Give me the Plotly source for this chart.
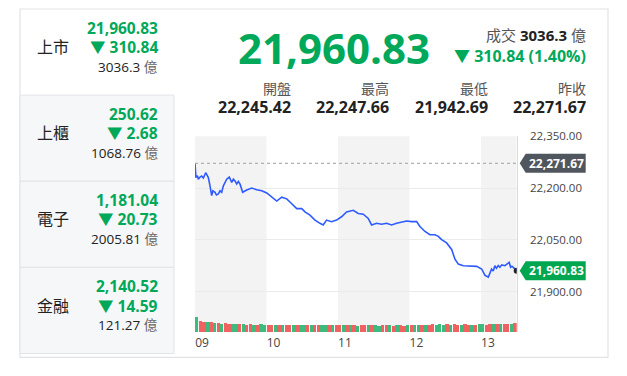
import plotly.graph_objects as go

W, H = 627, 376

# ---------------- data ----------------
minutes = [0, 0.8, 2.0, 2.8, 4.2, 5.6, 7.0, 9.0, 10.0, 11.2, 12.4, 14.0, 15.0, 16.8, 18.0, 19.6,
           21.0, 22.4, 23.8, 25.0, 26.6, 28.8, 29.8, 30.8, 32.2, 33.6, 35.0, 36.4, 37.8, 39.0,
           40.0, 43.4, 47.6, 51.8, 56.0, 60.2, 64.4, 68.6, 72.8, 77.0, 81.2, 85.4,
           89.6, 92.3, 96.5, 100.7, 104.9, 107.6, 110.4, 114.6, 118.8, 123.0, 127.2, 132.8,
           137.0, 141.2, 145.4, 148.2, 152.4, 156.6, 160.8, 165.0, 169.2, 173.4, 177.6, 181.8,
           186.0, 188.8, 193.0, 197.2, 201.4, 204.2, 207.0, 211.2, 215.4, 218.2, 221.0, 225.2,
           230.8, 236.4, 240.6, 243.4, 246.2, 247.5, 248.9, 250.3, 251.7, 253.0, 254.5, 255.9,
           257.5, 260.1, 262.0, 263.7, 264.9, 266.0, 267.1, 270]
prices = [22270.8, 22230.3, 22236.0, 22225.5, 22232.0, 22234.8, 22229.0, 22244.4, 22238.0,
          22230.3, 22210.0, 22178.2, 22192.0, 22187.8, 22180.0, 22183.0, 22192.0, 22187.8,
          22206.5, 22214.0, 22225.5, 22232.0, 22222.0, 22216.1, 22226.0, 22220.7, 22212.0,
          22219.0, 22211.3, 22196.0, 22187.8,
          22194.3, 22200.0, 22195.2, 22192.4, 22185.9, 22173.7, 22162.4, 22173.7, 22168.9,
          22154.7, 22140.6, 22140.6, 22131.2, 22121.6, 22107.5, 22098.1, 22093.3, 22107.5,
          22102.9, 22107.5, 22117.1, 22131.2, 22135.8, 22126.4, 22124.4, 22112.3, 22093.3,
          22098.1, 22095.3, 22098.1, 22093.3, 22098.1, 22101.8, 22104.6, 22102.9, 22102.9,
          22088.8, 22074.6, 22065.0, 22065.0, 22060.5, 22050.9, 22041.5, 22022.6, 21994.3,
          21980.1, 21975.6, 21975.6, 21973.6, 21966.0, 21947.3, 21942.7, 21955.0, 21966.0,
          21960.0, 21975.6, 21968.0, 21976.0, 21970.8, 21978.0, 21975.6, 21980.0, 21985.0,
          21970.8, 21974.0, 21970.8, 21960.83]

prev_close = 22271.67
last_price = 21960.83

# volume per 3-minute slot (億) and up/down colour flag
volumes = [72, 52, 48, 45, 44, 40, 42, 38, 40, 37,
           36, 38, 35, 36, 34, 35, 33, 34, 36, 33,
           32, 34, 33, 31, 33, 32, 34, 31, 30, 32,
           33, 31, 30, 32, 31, 30, 33, 31, 30, 32,
           31, 30, 31, 32, 30, 29, 31, 30, 32, 31,
           30, 29, 31, 30, 30, 29, 31, 30, 29, 31,
           30, 32, 31, 33, 34, 32, 36, 33, 35, 34,
           36, 33, 35, 34, 33, 35, 32, 34, 33, 35,
           36, 34, 37, 35, 36, 38, 35, 37, 36, 40]
vol_dir = ["grrgrgrgrr", "ggrgrrgrgg", "rrgrgrrgrg", "grgrrggrgr", "rgrgrgrrgr",
           "ggrrgrgrrg", "rggrgrrggg", "rgrrgrrgrg", "grrgrgrrgr", "rrgrrgrgrr"]

hour_ticks = [0, 60, 120, 180, 240]
hour_labels = ["09", "10", "11", "12", "13"]
price_ticks = [21900, 22050, 22200, 22350]
price_labels = ["21,900.00", "22,050.00", "22,200.00", "22,350.00"]

headline = "21,960.83"
change_text = "▼ 310.84 (1.40%)"
turnover = "3036.3"
stat_names = ["開盤", "最高", "最低", "昨收"]
stat_values = ["22,245.42", "22,247.66", "21,942.69", "22,271.67"]

markets = ["上市", "上櫃", "電子", "金融"]
market_index = ["21,960.83", "250.62", "1,181.04", "2,140.52"]
market_change = ["310.84", "2.68", "20.73", "14.59"]
market_volume = ["3036.3", "1068.76", "2005.81", "121.27"]

# ---------------- styles ----------------
GREEN = "#00a85a"
RED_BAR = "#f06262"
GREEN_BAR = "#3dba7c"
DARK = "#222222"
GRAY = "#555555"
FONT = "Open Sans, Noto Sans CJK TC, sans-serif"
TEXT_DY = -6  # visual correction for annotation vertical centring

def px(x):
    return x / W

def py(y):
    return 1 - y / H

X0, X1 = 195, 516.7
Y0, Y1 = 131, 331

fig = go.Figure()

flags = "".join(vol_dir)
slot = 3
vol_t = [slot * i + slot / 2 for i in range(len(volumes))]
fig.add_trace(go.Bar(
    x=vol_t, y=volumes, yaxis="y2", width=slot * 0.92,
    marker=dict(color=[GREEN_BAR if c == "g" else RED_BAR for c in flags],
                line=dict(width=0)),
    hoverinfo="skip", showlegend=False))

fig.add_trace(go.Scatter(
    x=minutes, y=prices, mode="lines",
    line=dict(color="#2e5bff", width=1.6), showlegend=False, hoverinfo="skip"))

fig.add_trace(go.Scatter(
    x=[minutes[-1]], y=[last_price], mode="markers",
    marker=dict(color="#222222", size=6), showlegend=False, hoverinfo="skip"))

shapes = []
# outer frame
shapes.append(dict(type="rect", xref="paper", yref="paper", x0=px(20), x1=px(608), y0=py(357), y1=py(1),
                   line=dict(color="#e2e3e6", width=1.2), fillcolor="rgba(0,0,0,0)", layer="below"))
# left panel rows
row_tops = [1, 89, 177, 265]
row_bots = [89, 177, 265, 353]
for i in range(1, 4):
    shapes.append(dict(type="rect", xref="paper", yref="paper", x0=px(20), x1=px(174),
                       y0=py(row_bots[i]), y1=py(row_tops[i]),
                       line=dict(color="#e2e4e8", width=1), fillcolor="#f6f7f9", layer="below"))
# hour bands
for a, b in [(0, 60), (120, 180), (240, 270)]:
    shapes.append(dict(type="rect", xref="x", yref="paper", x0=a, x1=b, y0=py(Y1), y1=py(Y0),
                       line=dict(width=0), fillcolor="#f3f3f3", layer="below"))
# previous close dotted line
shapes.append(dict(type="line", xref="paper", yref="y", x0=px(X0), x1=px(X1), y0=prev_close, y1=prev_close,
                   line=dict(color="#b0b0b0", width=1.2, dash="dot")))
# price tags
tag_path = "M 3,0 L 9,9.5 L 69,9.5 L 69,-9.5 L 9,-9.5 Z"
for val, col in [(prev_close, "#50565d"), (last_price, "#00a650")]:
    shapes.append(dict(type="path", xref="paper", yref="y", xsizemode="pixel", ysizemode="pixel",
                       xanchor=px(X1), yanchor=val, path=tag_path, fillcolor=col, line=dict(width=0)))

ann = []
def text(x, y, t, size, color, bold=False, xanchor="left", yref="paper"):
    ann.append(dict(x=px(x), y=(py(y + TEXT_DY) if yref == "paper" else y), xref="paper", yref=yref,
                    text=(f"<b>{t}</b>" if bold else t), showarrow=False,
                    xanchor=xanchor, yanchor="middle",
                    font=dict(family=FONT, size=size, color=color)))

# tag texts
text(556, prev_close, f"{prev_close:,.2f}", 12, "white", True, "center", yref="y")
text(556.5, last_price, f"{last_price:,.2f}", 12, "white", True, "center", yref="y")

# headline
text(334, 46, headline, 42, GREEN, True, "center")
text(588, 34, f"<span style='color:{GRAY}'>成交 </span><b>{turnover}</b><span style='color:{GRAY}'> 億</span>",
     15, DARK, False, "right")
text(588, 55, change_text, 16, GREEN, True, "right")
for i, (n, v) in enumerate(zip(stat_names, stat_values)):
    xr = 292 + i * 98.3
    text(xr + 1, 88, n, 14, GRAY, False, "right")
    text(xr + 1, 107, v, 16, DARK, True, "right")

# left panel
for i in range(4):
    top = row_tops[i]
    text(35, top + 45, markets[i], 16, DARK, False, "left")
    text(160, top + 25, market_index[i], 15.5, GREEN, True, "right")
    text(160, top + 45, "▼ " + market_change[i], 15.5, GREEN, True, "right")
    text(160, top + 65, f"{market_volume[i]} <span style='color:#666'>億</span>", 13.5, DARK, False, "right")

# price axis: bottom of plot (y=331) maps to this value
scale = 150 / 53.0
y_bottom = 22350 - (Y1 - Y0) * scale

fig.update_layout(
    width=W, height=H, margin=dict(l=0, r=0, t=0, b=0),
    paper_bgcolor="white", plot_bgcolor="rgba(0,0,0,0)",
    font=dict(family=FONT, color="#444"),
    shapes=shapes, annotations=ann, bargap=0,
    xaxis=dict(domain=[px(X0), px(X1)], range=[0, 270], tickvals=hour_ticks, ticktext=hour_labels,
               showgrid=False, zeroline=False, showline=False, ticks="",
               tickfont=dict(size=12, color="#444"), ticklabelshift=7, ticklabelstandoff=2),
    yaxis=dict(domain=[py(Y1), py(Y0)], range=[y_bottom, 22350], side="right",
               tickvals=price_ticks, ticktext=price_labels, showgrid=True, gridcolor="#ebebeb",
               zeroline=False, showline=True, linecolor="#d8dbe2", linewidth=1, ticks="",
               tickfont=dict(size=11.5, color="#444"), ticklabelstandoff=10),
    yaxis2=dict(domain=[py(Y1), py(Y0)], range=[0, 930], overlaying="y", visible=False),
)

fig.write_html("out.html", config={"displayModeBar": False},
               post_script="document.body.style.margin='0';document.body.style.padding='0';")
